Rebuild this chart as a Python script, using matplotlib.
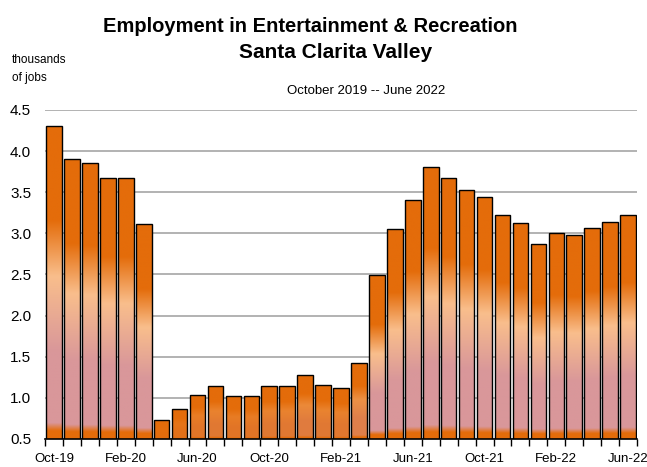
import numpy as np
import matplotlib
matplotlib.use("Agg")
import matplotlib.pyplot as plt
from matplotlib.colors import LinearSegmentedColormap, to_rgb

months = ["Oct-19", "Nov-19", "Dec-19", "Jan-20", "Feb-20", "Mar-20", "Apr-20", "May-20",
          "Jun-20", "Jul-20", "Aug-20", "Sep-20", "Oct-20", "Nov-20", "Dec-20", "Jan-21",
          "Feb-21", "Mar-21", "Apr-21", "May-21", "Jun-21", "Jul-21", "Aug-21", "Sep-21",
          "Oct-21", "Nov-21", "Dec-21", "Jan-22", "Feb-22", "Mar-22", "Apr-22", "May-22",
          "Jun-22"]
jobs = [4.30, 3.90, 3.86, 3.67, 3.67, 3.11, 0.73, 0.86,
        1.04, 1.15, 1.02, 1.02, 1.15, 1.15, 1.28, 1.16,
        1.12, 1.42, 2.49, 3.05, 3.41, 3.81, 3.67, 3.53,
        3.44, 3.22, 3.12, 2.87, 3.00, 2.98, 3.07, 3.14,
        3.22]
label_every = 4
ymin, ymax = 0.5, 4.5

fonts = ["Liberation Sans Narrow", "Liberation Sans", "DejaVu Sans"]
plt.rcParams["font.family"] = fonts

orange = "#e46c0a"
peach = "#f9be8c"
pink = "#d9979a"
grad = LinearSegmentedColormap.from_list(
    "barfill", [(0.0, orange), (0.025, orange), (0.05, pink), (0.28, pink),
                (0.52, peach), (0.70, orange), (1.0, orange)])

fig = plt.figure(figsize=(6.47, 4.67), dpi=100)
ax = fig.add_axes([0.0696, 0.06, 0.915, 0.7045])

x = np.arange(len(jobs))
bars = ax.bar(x, jobs, width=0.87, facecolor="none", edgecolor="black",
              linewidth=1.0, zorder=3)

# gradient fill clipped to each bar
for p, v in zip(bars, jobs):
    h = v - ymin
    t = np.clip((h - 0.2) / 1.6, 0, 1)
    col = grad(np.linspace(0, 1, 256))[:, :3]
    base = np.array(to_rgb(orange))
    col = base * (1 - t) + col * t
    img = col[:, None, :]
    im = ax.imshow(img, extent=[p.get_x(), p.get_x() + p.get_width(), ymin, v],
                   origin="lower", aspect="auto", zorder=2.5, interpolation="bilinear")
    im.set_clip_path(p)

ax.set_xlim(-0.5, len(jobs) - 0.5)
ax.set_ylim(ymin, ymax)
ax.set_yticks(np.arange(0.5, 4.51, 0.5))
ax.set_yticklabels([f"{v:.1f}" for v in np.arange(0.5, 4.51, 0.5)], fontsize=11)
ax.yaxis.grid(True, color="#a6a6a6", linewidth=1.2, zorder=0)
ax.set_axisbelow(True)

ax.set_xticks(x[::label_every])
ax.set_xticklabels(months[::label_every], fontsize=9.5)
ax.set_xticks(np.arange(-0.5, len(jobs), 1), minor=True)
ax.tick_params(axis="x", which="major", length=0, pad=10)
ax.tick_params(axis="x", which="minor", length=5, width=1, direction="out")
ax.tick_params(axis="y", length=0, pad=10)

for s in ["top", "right", "left"]:
    ax.spines[s].set_visible(False)
ax.spines["bottom"].set_linewidth(1.2)
ax.spines["bottom"].set_zorder(4)

fig.text(310 / 647, 1 - 26 / 467, "Employment in Entertainment & Recreation",
         ha="center", va="center", fontsize=14.5, fontweight="bold")
fig.text(336 / 647, 1 - 53 / 467, "Santa Clarita Valley",
         ha="center", va="center", fontsize=15, fontweight="bold")
fig.text(366 / 647, 1 - 91 / 467, "October 2019 -- June 2022",
         ha="center", va="center", fontsize=9.5)
fig.text(12 / 647, 1 - 60 / 467, "thousands", ha="left", va="center", fontsize=8.5)
fig.text(12 / 647, 1 - 78 / 467, "of jobs", ha="left", va="center", fontsize=8.5)

fig.savefig("out.png", dpi=100)
